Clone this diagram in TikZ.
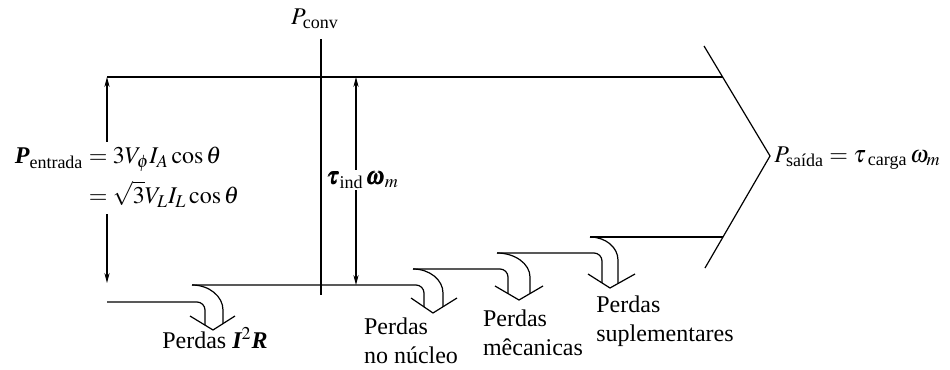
\documentclass[tikz,border=0pt]{standalone}
\usepackage{amsmath}
\usepackage{mathptmx}
\usepackage{fontspec}
\setmainfont{Liberation Serif}
\usetikzlibrary{arrows.meta}

\tikzset{
  flow/.style={line width=0.6pt},
  dimline/.style={line width=0.6pt, {Stealth[length=5pt,width=2.6pt]}-{Stealth[length=5pt,width=2.6pt]}},
  lbl/.style={font=\fontsize{12}{14.5}\selectfont, inner sep=1pt},
}
\newcommand{\bfit}[1]{\text{\bfseries\itshape #1}}

\begin{document}
\begin{tikzpicture}[x=0.5pt, y=-0.5pt]
\useasboundingbox (0,0) rectangle (950,370);
\coordinate (in top) at (107,77);
\coordinate (in bot) at (107,283);
\coordinate (top end) at (722.6,77);
\coordinate (out top) at (704,46);
\coordinate (out tip) at (770,156);
\coordinate (out bot) at (705,268);
\coordinate (conv top) at (321,39);
\coordinate (conv bot) at (321,295);
\coordinate (ind top) at (356,77);
\coordinate (ind bot) at (356,285);
\draw[flow] (in top) -- (top end);
\draw[flow] (out top) -- (out tip) -- (out bot);
\draw[flow] (conv top) -- (conv bot);
\draw[dimline] (in top) -- (in bot);
\draw[dimline] (ind top) -- (ind bot);
\node[lbl, fill=white] (pin) at (127,178) {$\begin{aligned}\bfit{P}_{\text{entrada}} &= 3V_{\phi}I_A\cos\theta\\ &= \sqrt{3}V_LI_L\cos\theta\end{aligned}$};
\node[lbl, fill=white] (pind) at (363,180) {$\pmb{\tau}_{\text{ind}}\,\pmb{\omega}_m$};
\node[lbl] (pconv) at (315,19) {$P_{\text{conv}}$};
\node[lbl, anchor=west] (pout) at (772,158) {$P_{\text{saída}} = \tau_{\;\text{carga}}\,\omega_m$};
% perdas I2R
\draw[flow, rounded corners=4pt] (107,302) -- (205,302) -- (205,325.1);
\draw[flow] (192,285) .. controls (209,285) and (223,296.2) .. (223,310) -- (223,323.6);
\draw[flow] (190,316) -- (213,330) -- (235,316);
\node[lbl] (loss cu) at (215,338) {Perdas $\bfit{I}^2\bfit{R}$};
% perdas no nucleo
\draw[flow, rounded corners=4pt] (192,285) -- (424,285) -- (424,306.9);
\draw[flow] (413,269) .. controls (429.6,269) and (443,279.8) .. (443,293) -- (443,306.8);
\draw[flow] (411,298) -- (433,313) -- (457,298);
\node[lbl, align=left] (loss core) at (411,341) {Perdas\\no núcleo};
% perdas mecanicas
\draw[flow, rounded corners=4pt] (413,269) -- (508,269) -- (508,293.6);
\draw[flow] (497,253) .. controls (515,253) and (530,263.8) .. (530,277) -- (530,293.6);
\draw[flow] (495,286) -- (519,300) -- (543,286);
\node[lbl, align=left] (loss mech) at (533,333) {Perdas\\mêcanicas};
% perdas suplementares
\draw[flow, rounded corners=4pt] (497,253) -- (602,253) -- (602,282.9);
\draw[flow] (590,237) .. controls (605.5,237) and (618,247.3) .. (618,260) -- (618,283.5);
\draw[flow] (588,274) -- (610,288) -- (635,274);
\draw[flow] (590,237) -- (723,237);
\node[lbl, align=left] (loss sup) at (665,321) {Perdas\\suplementares};
\end{tikzpicture}
\end{document}
